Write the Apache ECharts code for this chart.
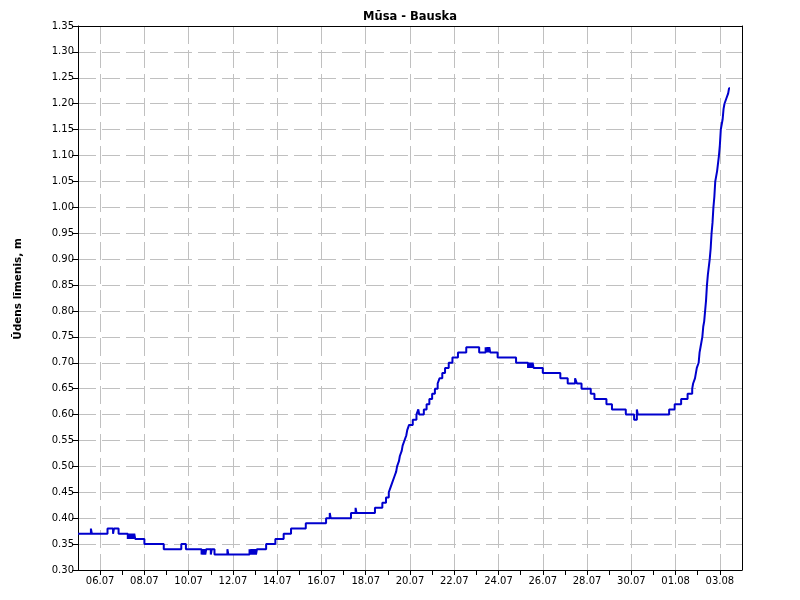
<!DOCTYPE html>
<html>
<head>
<meta charset="utf-8">
<script src="https://cdn.jsdelivr.net/npm/echarts@6/dist/echarts.min.js"></script>
<style>html,body{margin:0;padding:0;background:#fff}#c{width:800px;height:600px}</style>
</head>
<body>
<div id="c"></div>
<script>
// Observation breakpoints (value holds until next breakpoint)
var times = [
'05.07 00','05.07 14','05.07 15','06.07 08','06.07 14','06.07 15','06.07 20',
'07.07 06','07.07 07','07.07 08','07.07 09','07.07 10','07.07 11','07.07 12','07.07 13','07.07 14',
'08.07 00','08.07 21','09.07 16','09.07 21',
'10.07 14','10.07 15','10.07 16','10.07 17','10.07 18','10.07 19',
'11.07 00','11.07 01','11.07 04','11.07 18','11.07 19',
'12.07 18','12.07 19','12.07 20','12.07 21','12.07 22','12.07 23','13.07 00','13.07 01','13.07 02',
'13.07 12','13.07 22','14.07 07','14.07 15','15.07 07','16.07 05','16.07 09','16.07 10',
'17.07 08','17.07 13','17.07 14','18.07 10','18.07 18','18.07 22',
'19.07 01','19.07 03','19.07 05','19.07 07','19.07 09','19.07 10','19.07 12','19.07 13','19.07 15',
'19.07 16','19.07 18','19.07 20','19.07 21','19.07 23',
'20.07 03','20.07 07','20.07 09','20.07 10','20.07 15','20.07 18','20.07 21',
'21.07 00','21.07 03','21.07 06','21.07 08','21.07 11','21.07 14','21.07 18','21.07 22',
'22.07 04','22.07 13','23.07 03','23.07 10','23.07 11','23.07 12','23.07 13','23.07 14','23.07 15','23.07 23',
'24.07 19','25.07 08','25.07 09','25.07 10','25.07 11','25.07 12','25.07 13','25.07 14',
'26.07 00','26.07 19','27.07 03','27.07 11','27.07 13','27.07 18',
'28.07 04','28.07 08','28.07 21','29.07 03','29.07 18','30.07 03','30.07 06','30.07 07',
'31.07 17','31.07 23','01.08 06','01.08 13','01.08 18','01.08 19','01.08 21','01.08 22','01.08 23',
'02.08 01','02.08 02','02.08 03','02.08 05','02.08 06','02.08 07','02.08 08','02.08 09','02.08 10',
'02.08 11','02.08 13','02.08 14','02.08 15','02.08 16','02.08 17','02.08 18','02.08 19','02.08 21',
'02.08 23','03.08 00','03.08 01','03.08 03','03.08 04','03.08 05','03.08 07','03.08 09','03.08 10','03.08 11'
];
var levels = [
0.37,0.38,0.37,0.38,0.37,0.38,0.37,
0.36,0.37,0.36,0.37,0.36,0.37,0.36,0.37,0.36,
0.35,0.34,0.35,0.34,
0.33,0.34,0.33,0.34,0.33,0.34,
0.33,0.34,0.33,0.34,0.33,
0.34,0.33,0.34,0.33,0.34,0.33,0.34,0.33,0.34,
0.35,0.36,0.37,0.38,0.39,0.40,0.41,0.40,
0.41,0.42,0.41,0.42,0.43,0.44,
0.45,0.46,0.47,0.48,0.49,0.50,0.51,0.52,0.53,
0.54,0.55,0.56,0.57,0.58,
0.59,0.60,0.61,0.60,0.61,0.62,0.63,
0.64,0.65,0.66,0.67,0.68,0.69,0.70,0.71,
0.72,0.73,0.72,0.73,0.72,0.73,0.72,0.73,0.72,0.71,
0.70,0.69,0.70,0.69,0.70,0.69,0.70,0.69,
0.68,0.67,0.66,0.67,0.66,0.65,
0.64,0.63,0.62,0.61,0.60,0.59,0.61,0.60,
0.61,0.62,0.63,0.64,0.65,0.66,0.67,0.68,0.69,
0.70,0.72,0.73,0.75,0.77,0.78,0.80,0.82,0.85,
0.87,0.90,0.92,0.95,0.97,1.00,1.02,1.05,1.07,
1.10,1.12,1.15,1.17,1.19,1.20,1.21,1.22,1.23,1.23
];
var titleText = 'Mūsa - Bauska';
var yName = 'Ūdens līmenis, m';
var yMin = 0.30, yMax = 1.35, yStep = 0.05;

// hourly category axis 05.07 00:00 .. 04.08 00:00
function pad(n){return (n<10?'0':'')+n;}
var cats = [];
var start = Date.UTC(2023,6,5,0,0,0);
for (var h = 0; h <= 720; h++) {
  var d = new Date(start + h*3600000);
  cats.push(pad(d.getUTCDate())+'.'+pad(d.getUTCMonth()+1)+' '+pad(d.getUTCHours()));
}
var seriesData = times.map(function(t,i){return [t, levels[i]];});

var font = 'DejaVu Sans';
var chart = echarts.init(document.getElementById('c'), null, {renderer:'canvas'});
chart.setOption({
  animation: false,
  backgroundColor: '#fff',
  title: {
    text: titleText, left: 410, top: 11, textAlign: 'center', padding: 0,
    textStyle: {fontFamily: font, fontSize: 11.5, fontWeight: 'bold', color: '#000'}
  },
  grid: {left: 78, right: 58, top: 26, bottom: 30, show: false},
  xAxis: [{
    type: 'category', data: cats, boundaryGap: false,
    axisLine: {lineStyle: {color: '#000', width: 1}},
    axisTick: {show: true, length: 5, lineStyle: {color: '#000'},
      interval: function(i){return i % 24 === 0 && i > 0 && i < 720;}},
    axisLabel: {interval: function(i){return i % 48 === 24;}, margin: 6,
      formatter: function(v){return v.slice(0,5);},
      fontFamily: font, fontSize: 10, color: '#000'},
    splitLine: {show: true, interval: function(i){return i % 48 === 24;},
      lineStyle: {color: '#c0c0c0', width: 1, type: [18,6]}}
  }, {
    type: 'category', data: cats, boundaryGap: false, position: 'top',
    axisLine: {show: true, lineStyle: {color: '#000', width: 1}},
    axisTick: {show: false}, axisLabel: {show: false}, splitLine: {show: false}
  }],
  yAxis: [{
    type: 'value', min: yMin, max: yMax, interval: yStep,
    name: yName, nameLocation: 'middle', nameGap: 54, nameRotate: 90,
    nameTextStyle: {fontFamily: font, fontSize: 10.5, fontWeight: 'bold', color: '#000', padding: [0,0,0,18]},
    axisLine: {show: true, lineStyle: {color: '#000', width: 1}},
    axisTick: {show: true, length: 6, lineStyle: {color: '#000'}},
    axisLabel: {margin: 4, formatter: function(v){return v.toFixed(2);},
      fontFamily: font, fontSize: 10, color: '#000'},
    splitLine: {show: true, showMinLine: false, showMaxLine: false,
      lineStyle: {color: '#c0c0c0', width: 1, type: [18,6]}}
  }, {
    type: 'value', min: yMin, max: yMax, interval: yStep, position: 'right',
    axisLine: {show: true, lineStyle: {color: '#000', width: 1}},
    axisTick: {show: false}, axisLabel: {show: false}, splitLine: {show: false}
  }],
  series: [{
    type: 'line', step: 'end', data: seriesData, showSymbol: false, symbol: 'none',
    xAxisIndex: 0, yAxisIndex: 0,
    lineStyle: {color: '#0000cd', width: 2}, itemStyle: {color: '#0000cd'}
  }]
});
</script>
</body>
</html>
